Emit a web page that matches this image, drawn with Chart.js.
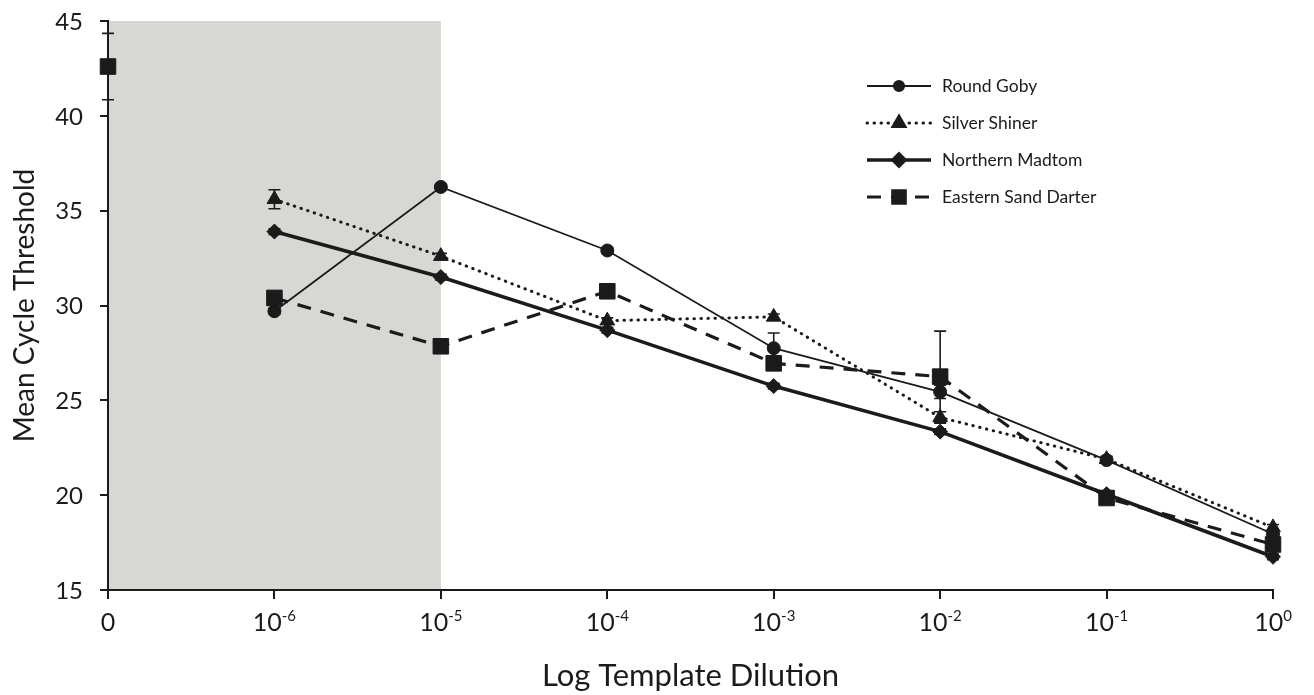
<!DOCTYPE html>
<html>
<head>
<meta charset="utf-8">
<script src="https://cdn.jsdelivr.net/npm/chart.js@4.4.1/dist/chart.umd.min.js"></script>
<style>
  html, body { margin: 0; padding: 0; background: #fff; }
  #wrap { width: 1314px; height: 695px; }
</style>
</head>
<body>
<div id="wrap"><canvas id="chart" width="1314" height="695"></canvas></div>
<script>
// x categories, exponent written after '^'
const dilutions = ['0', '10^-6', '10^-5', '10^-4', '10^-3', '10^-2', '10^-1', '10^0'];

const roundGoby = [null, 29.7, 36.25, 32.9, 27.75, 25.45, 21.85, 17.95];
const roundGobyErr = [null, 0.15, 0.15, 0.15, 0.8, 0.35, 0.15, 0.15];

const silverShiner = [null, 35.6, 32.6, 29.2, 29.4, 24.1, 21.9, 18.3];
const silverShinerErr = [null, 0.5, 0.15, 0.15, 0.15, 0.3, 0.15, 0.15];

const northernMadtom = [null, 33.9, 31.5, 28.7, 25.75, 23.35, 20.05, 16.75];
const northernMadtomErr = [null, 0.15, 0.15, 0.15, 0.15, 0.15, 0.15, 0.15];

const sandDarter = [null, 30.4, 27.85, 30.75, 26.95, 26.25, 19.85, 17.4];
const sandDarterErr = [null, 0.15, 0.15, 0.15, 0.15, 2.4, 0.15, 0.15];

// no-template control, plotted alone at "0"
const controlCt = [42.6, null, null, null, null, null, null, null];
const controlErr = [1.75, null, null, null, null, null, null, null];

const legendOrder = ['Round Goby', 'Silver Shiner', 'Northern Madtom', 'Eastern Sand Darter'];

const shadedFrom = '0';
const shadedTo = '10^-5';

const INK = '#1b1b1b';
const FONT = 'Lato, "Open Sans", sans-serif';

const shadePlugin = {
    id: 'shade',
    beforeDraw(chart) {
        const { ctx, chartArea, scales } = chart;
        const x0 = scales.x.getPixelForValue(dilutions.indexOf(shadedFrom));
        const x1 = scales.x.getPixelForValue(dilutions.indexOf(shadedTo));
        ctx.save();
        ctx.fillStyle = '#d7d7d4';
        ctx.fillRect(x0, chartArea.top, x1 - x0, chartArea.bottom - chartArea.top);
        ctx.restore();
    }
};

const errorBarPlugin = {
    id: 'errorBars',
    afterDatasetsDraw(chart) {
        const { ctx, scales } = chart;
        ctx.save();
        ctx.strokeStyle = INK;
        ctx.lineWidth = 1.6;
        chart.data.datasets.forEach(ds => {
            if (!ds.errors) return;
            ds.data.forEach((v, i) => {
                const e = ds.errors[i];
                if (v == null || !e) return;
                const x = scales.x.getPixelForValue(i);
                const yt = scales.y.getPixelForValue(v + e);
                const yb = scales.y.getPixelForValue(v - e);
                ctx.beginPath();
                ctx.moveTo(x, yt); ctx.lineTo(x, yb);
                ctx.moveTo(x - 6, yt); ctx.lineTo(x + 6, yt);
                ctx.moveTo(x - 6, yb); ctx.lineTo(x + 6, yb);
                ctx.stroke();
            });
        });
        ctx.restore();
    }
};

// tick labels drawn by hand: x with superscript exponents, y pushed away from the ticks
const tickLabelPlugin = {
    id: 'tickLabels',
    afterDraw(chart) {
        const { ctx, scales } = chart;
        const xs = scales.x, ys = scales.y;
        ctx.save();
        ctx.fillStyle = INK;
        ctx.textBaseline = 'alphabetic';
        dilutions.forEach((lab, i) => {
            const x = xs.getPixelForTick(i);
            const base = xs.top + 41;
            const parts = lab.split('^');
            ctx.font = '25px ' + FONT;
            const w1 = ctx.measureText(parts[0]).width;
            let w2 = 0;
            if (parts[1]) {
                ctx.font = '15px ' + FONT;
                w2 = ctx.measureText(parts[1]).width;
            }
            const left = x - (w1 + w2) / 2;
            ctx.font = '25px ' + FONT;
            ctx.textAlign = 'left';
            ctx.fillText(parts[0], left, base);
            if (parts[1]) {
                ctx.font = '15px ' + FONT;
                ctx.fillText(parts[1], left + w1, base - 10);
            }
        });
        ctx.font = '24px ' + FONT;
        ctx.textAlign = 'right';
        ctx.textBaseline = 'middle';
        ys.ticks.forEach(t => {
            ctx.fillText(String(t.value), ys.right - 25, ys.getPixelForValue(t.value) + 1);
        });
        ctx.restore();
    }
};

const legendPlugin = {
    id: 'lineLegend',
    afterDraw(chart) {
        const { ctx } = chart;
        const items = legendOrder.map(n => chart.data.datasets.find(ds => ds.label === n));
        ctx.save();
        items.forEach((ds, k) => {
            const y = 86 + k * 37;
            ctx.strokeStyle = INK;
            ctx.fillStyle = INK;
            ctx.lineWidth = ds.borderWidth;
            ctx.lineCap = ds.borderCapStyle || 'butt';
            ctx.setLineDash(ds.borderDash || []);
            ctx.beginPath();
            ctx.moveTo(867, y); ctx.lineTo(931, y);
            ctx.stroke();
            ctx.setLineDash([]);
            Chart.helpers.drawPoint(ctx, {
                pointStyle: ds.pointStyle,
                radius: ds.pointRadius * 0.8,
                rotation: 0,
                borderWidth: 1
            }, 899, y);
            ctx.font = '17.5px ' + FONT;
            ctx.textAlign = 'left';
            ctx.textBaseline = 'middle';
            ctx.fillText(ds.label, 942, y);
        });
        ctx.restore();
    }
};

function series(label, data, errors, style) {
    return Object.assign({
        label: label,
        data: data,
        errors: errors,
        borderColor: INK,
        backgroundColor: INK,
        pointBackgroundColor: INK,
        pointBorderColor: INK,
        pointBorderWidth: 1,
        spanGaps: false,
        tension: 0
    }, style);
}

new Chart(document.getElementById('chart').getContext('2d'), {
    type: 'line',
    data: {
        labels: dilutions,
        datasets: [
            series('Eastern Sand Darter', sandDarter, sandDarterErr,
                { pointStyle: 'rect', pointRadius: 11, borderWidth: 3.2, borderDash: [14, 10], order: 0 }),
            series('Round Goby', roundGoby, roundGobyErr,
                { pointStyle: 'circle', pointRadius: 6.5, borderWidth: 1.8, order: 1 }),
            series('Silver Shiner', silverShiner, silverShinerErr,
                { pointStyle: 'triangle', pointRadius: 8.5, borderWidth: 3, borderDash: [0.5, 6.5], borderCapStyle: 'round', order: 2 }),
            series('Northern Madtom', northernMadtom, northernMadtomErr,
                { pointStyle: 'rectRot', pointRadius: 7.5, borderWidth: 3.6, order: 3 }),
            series('Control', controlCt, controlErr,
                { pointStyle: 'rect', pointRadius: 11, showLine: false, order: 0 })
        ]
    },
    options: {
        responsive: false,
        animation: false,
        layout: { padding: { top: 21, right: 41, left: 0, bottom: 0 } },
        plugins: {
            legend: { display: false },
            tooltip: { enabled: false }
        },
        scales: {
            x: {
                type: 'category',
                offset: false,
                grid: { drawOnChartArea: false, drawTicks: true, tickLength: 9, color: INK, lineWidth: 2 },
                border: { display: true, color: INK, width: 2 },
                ticks: { color: 'rgba(0,0,0,0)', font: { size: 24, family: FONT }, maxRotation: 0, autoSkip: false },
                title: { display: true, text: 'Log Template Dilution', color: INK, font: { size: 31, family: FONT }, padding: { top: 0, bottom: 0 } },
                afterFit: s => { s.height = 105; }
            },
            y: {
                min: 15,
                max: 45,
                ticks: { stepSize: 5, color: 'rgba(0,0,0,0)', font: { size: 24, family: FONT }, padding: 4 },
                grid: { drawOnChartArea: false, drawTicks: true, tickLength: 8, color: INK, lineWidth: 2 },
                border: { display: true, color: INK, width: 2 },
                title: { display: true, text: 'Mean Cycle Threshold', color: INK, font: { size: 28, family: FONT }, padding: { top: 8, bottom: 4 } },
                afterFit: s => { s.width = 108; }
            }
        }
    },
    plugins: [shadePlugin, errorBarPlugin, tickLabelPlugin, legendPlugin]
});
</script>
</body>
</html>
